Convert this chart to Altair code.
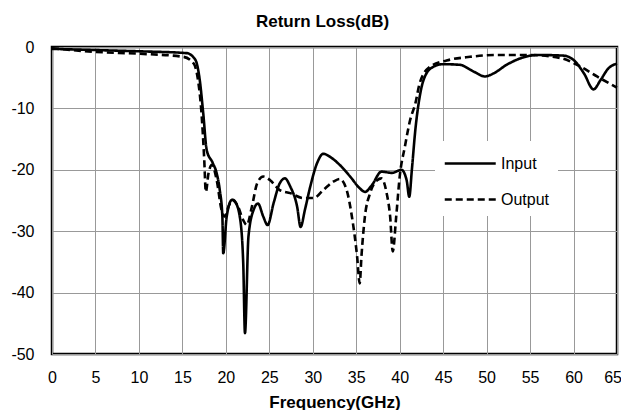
import altair as alt
import pandas as pd

in_freq = [0, 5, 10, 15.5, 16.5, 17.0, 17.4, 17.8, 18.5, 18.95, 19.3, 19.6, 19.7, 20.1, 20.7, 21.05, 21.6, 22.0, 22.2,
           22.6, 23.2, 23.7, 24.3, 24.8, 25.5, 26.2, 26.8, 27.4, 28.2, 28.6, 29.1, 29.7, 30.5, 31.2, 32.2, 33.1,
           34.3, 35.4, 36.0, 36.8, 37.9, 39.1, 40.2, 40.8, 41.1, 41.4, 41.8, 42.3, 42.9, 43.9, 45.0, 46.9, 48.5,
           49.8, 50.8, 52.3, 54.2, 55.8, 58.8, 60.0, 61.2, 62.3, 63.1, 64.0, 65.0]
in_db = [-0.3, -0.5, -0.7, -1.0, -2.1, -5.4, -10.8, -16.8, -18.9, -20.6, -23.3, -27.6, -33.6, -27.6, -24.9, -25.2, -27.6, -35.2, -46.6,
         -30.9, -26.5, -25.5, -27.6, -29.0, -25.4, -22.2, -21.4, -22.7, -26.0, -29.3, -26.5, -22.8, -18.9, -17.4, -18.1, -19.2,
         -21.1, -23.0, -23.6, -22.5, -20.3, -20.5, -20.0, -21.7, -24.4, -20.0, -13.5, -8.1, -4.8, -3.2, -2.8, -2.9, -4.0,
         -4.8, -4.3, -2.9, -1.7, -1.3, -1.4, -2.1, -4.3, -6.9, -5.4, -3.5, -2.7]

out_freq = [0, 5, 10.1, 15.1, 16.3, 16.8, 17.2, 17.5, 17.7, 18.0, 18.4, 18.95, 19.5, 19.9, 20.3, 20.8, 21.4, 22.0, 22.4,
            23.0, 23.6, 24.3, 25.1, 26.2, 27.4, 28.9, 30.1, 31.2, 32.4, 33.1, 33.9, 34.5, 35.1, 35.4, 35.6, 36.0,
            36.6, 37.4, 37.9, 38.5, 38.9, 39.2, 39.6, 40.0, 40.6, 41.2, 41.8, 42.3, 43.5, 45.4, 48.1, 51.2, 55.0,
            58.5, 60.8, 62.7, 65.0]
out_db = [-0.2, -0.8, -1.1, -1.6, -2.7, -5.4, -10.8, -17.9, -23.6, -20.6, -19.2, -21.7, -26.5, -27.6, -26.0, -24.9, -26.0, -28.2, -29.0,
          -26.0, -22.2, -21.1, -21.7, -23.3, -23.8, -24.6, -24.6, -23.3, -21.9, -21.5, -23.3, -27.6, -34.1, -38.5, -34.1, -27.6,
          -23.8, -21.7, -21.4, -23.8, -27.6, -33.3, -27.6, -21.1, -16.2, -11.9, -9.2, -5.9, -3.2, -2.2, -1.6, -1.3, -1.3,
          -1.8, -3.2, -4.8, -6.6]

series_names = ["Input", "Output"]
x_ticks = list(range(0, 66, 5))
y_ticks = [0, -10, -20, -30, -40, -50]

df = pd.concat([
    pd.DataFrame({"f": in_freq, "db": in_db, "s": series_names[0], "o": range(len(in_freq))}),
    pd.DataFrame({"f": out_freq, "db": out_db, "s": series_names[1], "o": range(len(out_freq))}),
])

font = "Liberation Sans"
plain = "'' + datum.value"

chart = alt.Chart(df).mark_line(color="black", strokeWidth=2.6, interpolate="monotone").encode(
    x=alt.X("f:Q", scale=alt.Scale(domain=[0, 65], nice=False),
            axis=alt.Axis(values=x_ticks, title="Frequency(GHz)", labelFontSize=16, labelPadding=15,
                          labelFlush=True, labelFlushOffset=4.5, labelExpr=plain,
                          titleFontSize=17, titleFontWeight="bold", titlePadding=9, ticks=False, domain=False,
                          gridColor="#999999", gridWidth=1, labelColor="black", titleColor="black")),
    y=alt.Y("db:Q", scale=alt.Scale(domain=[-50, 0], nice=False),
            axis=alt.Axis(values=y_ticks, title=None, labelFontSize=16, labelPadding=18, ticks=False,
                          labelExpr=plain, labelFlush=False,
                          domain=False, gridColor="#999999", gridWidth=1, labelColor="black")),
    strokeDash=alt.StrokeDash("s:N", scale=alt.Scale(domain=series_names, range=[[1, 0], [7, 4]]),
                              legend=alt.Legend(title=None, orient="none", legendX=383, legendY=94,
                                                fillColor="white", padding=8, symbolType="M-1,0H3",
                                                symbolSize=650, symbolStrokeWidth=2.6, symbolStrokeColor="black",
                                                symbolFillColor="transparent",
                                                labelFontSize=16, labelOffset=29, rowPadding=13,
                                                labelColor="black")),
    order="o:Q",
).properties(
    width=565, height=307,
    title=alt.TitleParams("Return Loss(dB)", fontSize=17, fontWeight="bold", font=font, offset=8, dx=-12,
                          color="black"),
    autosize=alt.AutoSizeParams(type="none"),
    padding={"left": 44, "top": 39, "right": 4, "bottom": 56},
).configure(font=font).configure_view(stroke="black", strokeWidth=2.5)

chart.save("out.html", embed_options={"renderer": "svg", "actions": False})
